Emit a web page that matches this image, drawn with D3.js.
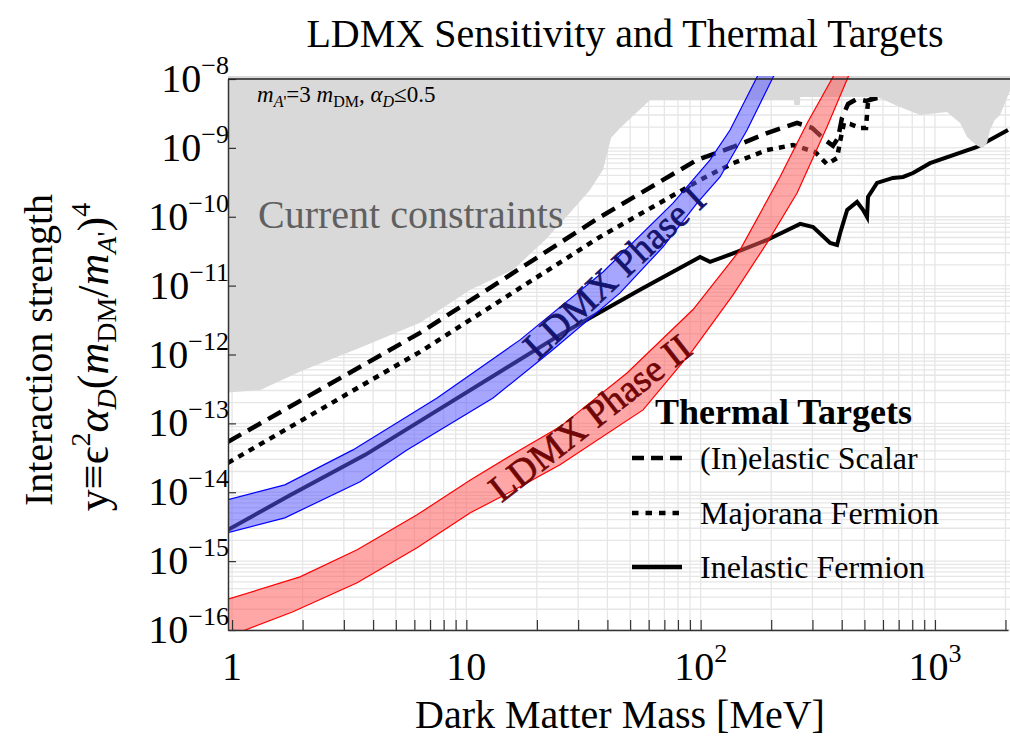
<!DOCTYPE html>
<html><head><meta charset="utf-8">
<script src="https://cdn.jsdelivr.net/npm/d3@7"></script>
<style>
body{margin:0;background:#fff}
text{font-family:"Liberation Serif","Times New Roman",serif}
</style>
</head><body>
<svg id="c" width="1010" height="738"></svg>
<script>
// ---------- data ----------
const xDomain = [0.961, 2050];          // Dark matter mass [MeV]
const yDomain = [1e-16, 1e-8];          // interaction strength y
const xTickLabels = [[1,"1",""],[10,"10",""],[100,"10","2"],[1000,"10","3"]];
const yTickLabels = [-16,-15,-14,-13,-12,-11,-10,-9,-8];

// current constraints (lower boundary of grey region)
const constraintMass = [0.95,1.32,2.01,3.52,6.34,10.4,15.8,21.7,27.7,33.7,38.3,41.5,45.3,60.8,250,251,265,266,566,710,864,1126,1280,1371,1512,1600,1669,1720,1800,1896,2100];
const constraintY    = [2.8e-13,3.06e-13,5.9e-13,1.25e-12,2.88e-12,8.7e-12,1.69e-11,4.6e-11,1.14e-10,2.45e-10,4.8e-10,1.4e-9,1.95e-9,4.96e-9,4.96e-9,4.2e-9,4.2e-9,5.5e-9,5.5e-9,3.93e-9,3.0e-9,3.32e-9,2.3e-9,1.44e-9,1.07e-9,1.0e-9,1.18e-9,1.82e-9,2.54e-9,3.0e-9,7e-9];

// LDMX Phase I band
const phase1UpperMass = [0.961,1.68,3.28,7.50,16.95,38.3,76.2,109.7,133.5,174,190];
const phase1UpperY    = [7.8e-15,1.28e-14,4.12e-14,2.34e-13,1.63e-12,1.58e-11,1.58e-10,6.7e-10,1.82e-9,1.07e-8,1.9e-8];
const phase1LowerMass = [0.961,1.68,3.52,5.58,13.0,23.4,45.3,69.1,96.5,121,157.8,204,225];
const phase1LowerY    = [2.6e-15,4.25e-15,1.42e-14,4.12e-14,2.34e-13,1.17e-12,7.84e-12,3.65e-11,1.58e-10,3.78e-10,1.82e-9,1.07e-8,1.9e-8];

// LDMX Phase II band
const phase2UpperMass = [0.961,1.95,3.42,6.16,10.4,16.95,25.1,48.5,92.8,147.3,218,285,367,413];
const phase2UpperY    = [2.8e-16,5.9e-16,1.46e-15,4.7e-15,1.51e-14,4.12e-14,8.9e-14,5.4e-13,4.5e-12,3.3e-11,3.78e-10,2.30e-9,1.07e-8,2.2e-8];
const phase2LowerMass = [0.961,1.82,3.42,6.16,10.4,16.95,25.1,56.8,92.8,137.5,192,258,346,426,456];
const phase2LowerY    = [8.0e-17,1.84e-16,4.84e-16,1.56e-15,5.03e-15,1.2e-14,2.5e-14,1.57e-13,1.17e-12,7.33e-12,4.17e-11,2.21e-10,2.01e-9,1.07e-8,1.9e-8];

// thermal targets
const scalarMass = [0.961,6.34,37.2,96.5,137.5,192,258,299,340,367,386,401,426,465,508,566,700];
const scalarY    = [5.4e-14,2.06e-12,9.9e-11,6.7e-10,1.03e-9,1.64e-9,2.30e-9,1.95e-9,1.30e-9,1.07e-9,1.39e-9,2.72e-9,4.34e-9,5.13e-9,4.8e-9,5.3e-9,5.5e-9];
const majoranaMass = [0.961,6.34,37.2,99.4,137.5,192,248,308,346,382,394,409,434,479,508,516,523,560];
const majoranaY    = [2.67e-14,1.09e-12,5.1e-11,3.42e-10,6.0e-10,9.3e-10,1.10e-9,8.7e-10,5.8e-10,7.1e-10,1.26e-9,2.30e-9,2.22e-9,1.95e-9,1.95e-9,4.06e-9,5.66e-9,6e-9];
const fermionMass = [0.961,1.72,3.70,25.9,55.1,99.4,109.7,143,192,266,302,357,382,394,422,465,493,513,518,566,662,731,806,953,1512,2050];
const fermionY    = [2.85e-15,8.58e-15,3.49e-14,2.06e-12,8.7e-12,2.61e-11,2.21e-11,3.08e-11,4.6e-11,7.87e-11,7.1e-11,4.17e-11,3.9e-11,5.8e-11,1.26e-10,1.64e-10,1.26e-10,9.9e-11,1.94e-10,3.1e-10,3.66e-10,3.78e-10,4.32e-10,6.0e-10,1.03e-9,1.82e-9];

const legendLabels = ["(In)elastic Scalar","Majorana Fermion","Inelastic Fermion"];

// ---------- drawing ----------
const svg = d3.select("#c");
const L = 228, R = 1008, T = 79, B = 630;
const x = d3.scaleLog().domain(xDomain).range([L, R]);
const y = d3.scaleLog().domain(yDomain).range([B, T]);
const zip = (a, b) => a.map((v, i) => [v, b[i]]);
const line = d3.line().x(d => x(d[0])).y(d => y(d[1]));

svg.append("defs").append("clipPath").attr("id","clip")
  .append("rect").attr("x", L).attr("y", T - 3).attr("width", 1010 - L).attr("height", B - T + 3);

// grid
const grid = svg.append("g").attr("stroke","#e6e6e6").attr("stroke-width",1.3);
x.ticks().forEach(v => grid.append("line").attr("x1",x(v)).attr("x2",x(v)).attr("y1",T).attr("y2",B));
y.ticks().forEach(v => grid.append("line").attr("x1",L).attr("x2",R+2).attr("y1",y(v)).attr("y2",y(v)));

const plot = svg.append("g").attr("clip-path","url(#clip)");

// thermal target lines (under constraints)
plot.append("path").attr("d", line(zip(fermionMass, fermionY)))
  .attr("fill","none").attr("stroke","#000").attr("stroke-width",4);
plot.append("path").attr("d", line(zip(scalarMass, scalarY)))
  .attr("fill","none").attr("stroke","#000").attr("stroke-width",4.5).attr("stroke-dasharray","15,8");
plot.append("path").attr("d", line(zip(majoranaMass, majoranaY)))
  .attr("fill","none").attr("stroke","#000").attr("stroke-width",4.5).attr("stroke-dasharray","6,6");

// constraints
const cPts = zip(constraintMass, constraintY);
cPts.push([constraintMass[constraintMass.length-1], 1.2e-8], [constraintMass[0], 1.2e-8]);
plot.append("path").attr("d", line(cPts) + "Z").attr("fill","#d9d9d9").attr("stroke","none");

// bands
function band(um, uy, lm, ly) {
  return line(zip(um, uy).concat(zip(lm, ly).reverse())) + "Z";
}
plot.append("path").attr("d", band(phase2UpperMass, phase2UpperY, phase2LowerMass, phase2LowerY))
  .attr("fill","rgba(255,87,87,0.53)").attr("stroke","#ff0000").attr("stroke-width",1.2);
plot.append("path").attr("d", band(phase1UpperMass, phase1UpperY, phase1LowerMass, phase1LowerY))
  .attr("fill","rgba(87,87,255,0.53)").attr("stroke","#0000ff").attr("stroke-width",1.2);

// band labels
svg.append("text").attr("transform","translate(623,282) rotate(-43)")
  .attr("text-anchor","middle").attr("font-size",38).attr("fill","#14146e")
  .attr("stroke","#14146e").attr("stroke-width",0.7).text("LDMX Phase I");
svg.append("text").attr("transform","translate(598,428) rotate(-38)")
  .attr("text-anchor","middle").attr("font-size",38).attr("fill","#700606")
  .attr("stroke","#700606").attr("stroke-width",0.7).text("LDMX Phase II");

// region labels
svg.append("text").attr("x",258).attr("y",228).attr("font-size",40).attr("fill","#606060").text("Current constraints");
const ann = svg.append("text").attr("x",257).attr("y",102).attr("font-size",23).attr("fill","#000");
ann.append("tspan").attr("font-style","italic").text("m");
ann.append("tspan").attr("font-size",16).attr("dy",5).attr("font-style","italic").text("A");
ann.append("tspan").attr("font-size",16).text("'");
ann.append("tspan").attr("dy",-5).text("=3 ");
ann.append("tspan").attr("font-style","italic").text("m");
ann.append("tspan").attr("font-size",16).attr("dy",5).text("DM");
ann.append("tspan").attr("dy",-5).text(", ");
ann.append("tspan").attr("font-style","italic").text("α");
ann.append("tspan").attr("font-size",16).attr("dy",5).attr("font-style","italic").text("D");
ann.append("tspan").attr("dy",-5).text("≤0.5");

// axes
const axB = svg.append("g").attr("transform",`translate(0,${B})`)
  .call(d3.axisBottom(x).tickValues(x.ticks()).tickSize(-10).tickSizeOuter(0).tickFormat(""));
const axL = svg.append("g").attr("transform",`translate(${L},0)`)
  .call(d3.axisLeft(y).tickValues(yTickLabels.map(e => Math.pow(10, e))).tickSize(-8).tickSizeOuter(0).tickFormat(""));
[axB, axL].forEach(a => {
  a.select(".domain").attr("stroke","#333").attr("stroke-width",1.5);
  a.selectAll(".tick line").attr("stroke","#333").attr("stroke-width",1.2);
});
svg.append("line").attr("x1",L).attr("x2",R+2).attr("y1",T).attr("y2",T).attr("stroke","#222").attr("stroke-width",1.3);

// tick labels
yTickLabels.forEach(e => {
  const t = svg.append("text").attr("x",229).attr("y",y(Math.pow(10,e)) + 13)
    .attr("text-anchor","end").attr("font-size",40);
  t.append("tspan").text("10");
  t.append("tspan").attr("font-size",26).attr("dy",-18).text("−" + Math.abs(e));
});
xTickLabels.forEach(([v, base, sup]) => {
  const t = svg.append("text").attr("x",x(v)).attr("y",680).attr("text-anchor","middle").attr("font-size",40);
  t.append("tspan").text(base);
  if (sup) t.append("tspan").attr("font-size",26).attr("dy",-18).text(sup);
});

// titles
svg.append("text").attr("x",625).attr("y",47).attr("text-anchor","middle").attr("font-size",40)
  .text("LDMX Sensitivity and Thermal Targets");
svg.append("text").attr("x",620).attr("y",728).attr("text-anchor","middle").attr("font-size",40)
  .text("Dark Matter Mass [MeV]");
svg.append("text").attr("transform","translate(52,350) rotate(-90)").attr("text-anchor","middle")
  .attr("font-size",40).text("Interaction strength");
const yt = svg.append("text").attr("transform","translate(108,357) rotate(-90)").attr("text-anchor","middle").attr("font-size",44);
yt.append("tspan").text("y≡ϵ");
yt.append("tspan").attr("font-size",28).attr("dy",-18).text("2");
yt.append("tspan").attr("font-style","italic").attr("dy",18).text("α");
yt.append("tspan").attr("font-style","italic").attr("font-size",28).attr("dy",8).text("D");
yt.append("tspan").attr("dy",-8).text("(");
yt.append("tspan").attr("font-style","italic").text("m");
yt.append("tspan").attr("font-size",28).attr("dy",8).text("DM");
yt.append("tspan").attr("dy",-8).text("/");
yt.append("tspan").attr("font-style","italic").text("m");
yt.append("tspan").attr("font-style","italic").attr("font-size",28).attr("dy",8).text("A");
yt.append("tspan").attr("font-size",28).text("'");
yt.append("tspan").attr("dy",-8).text(")");
yt.append("tspan").attr("font-size",28).attr("dy",-18).text("4");

// legend
svg.append("text").attr("x",655).attr("y",424).attr("font-size",36).attr("font-weight","bold").text("Thermal Targets");
const legendDash = ["12,7","6.5,7",null];
const legendY = [458, 513, 567];
legendLabels.forEach((lab, i) => {
  const ln = svg.append("line").attr("x1",632).attr("x2",682).attr("y1",legendY[i]).attr("y2",legendY[i])
    .attr("stroke","#000").attr("stroke-width",4.5);
  if (legendDash[i]) ln.attr("stroke-dasharray", legendDash[i]);
  svg.append("text").attr("x",700).attr("y",legendY[i] + 11).attr("font-size",32).text(lab);
});
</script>
</body></html>
